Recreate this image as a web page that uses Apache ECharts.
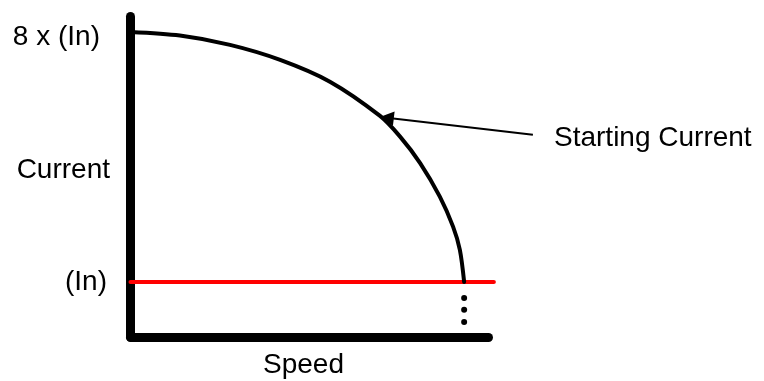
<!DOCTYPE html>
<html>
<head>
<meta charset="utf-8">
<script src="https://cdn.jsdelivr.net/npm/echarts@6/dist/echarts.min.js"></script>
<style>
html,body{margin:0;padding:0;background:#fff;}
#chart{width:764px;height:381px;}
</style>
</head>
<body>
<div id="chart"></div>
<script>
// Starting-current curve (speed, current); current in units of In
const curveSpeed   = [0,    13.8, 27.8, 41.8, 55.7, 69.7, 75.3, 80.9, 86.4, 90.1, 92.0, 93.2];
const curveCurrent = [8.0,  7.90, 7.64, 7.22, 6.61, 5.65, 5.07, 4.33, 3.39, 2.55, 1.90, 1.00];
// Rated current line
const ratedSpeed   = [0, 101.5];
const ratedCurrent = [1, 1];
// Dotted drop line below the curve end
const dotSpeed     = [93.2, 93.2, 93.2];
const dotCurrent   = [0.55, 0.22, -0.12];
// Y-axis tick labels
const yTickValues  = [1, 8];
const yTickLabels  = ['(In)', '8 x (In)'];
// Axis titles and annotation
const xTitle = 'Speed';
const yTitle = 'Current';
const annotationText = 'Starting Current';
const arrowFrom = [112.4, 5.12];
const arrowTo   = [71.6, 5.60];

const FONT = 'Liberation Sans, Arial, Helvetica, sans-serif';
const chart = echarts.init(document.getElementById('chart'), null, {renderer: 'canvas'});

const zip = (a, b) => a.map((v, i) => [v, b[i]]);

chart.setOption({
  animation: false,
  backgroundColor: '#ffffff',
  grid: {left: 130.5, top: 16.5, width: 358, height: 320.5, outerBoundsMode: 'none', containLabel: false},
  xAxis: {
    type: 'value', min: 0, max: 100,
    name: xTitle, nameLocation: 'middle', nameGap: 14, nameMoveOverlap: false,
    nameTextStyle: {fontFamily: FONT, fontSize: 28, color: '#000', padding: [0, 12, 0, 0], verticalAlign: 'top'},
    axisLine: {onZero: false, lineStyle: {color: '#000', width: 9, cap: 'round'}},
    axisTick: {show: false}, axisLabel: {show: false}, splitLine: {show: false}
  },
  yAxis: {
    type: 'value', min: -0.54, max: 8.434,
    axisLine: {show: true, onZero: false, lineStyle: {color: '#000', width: 9, cap: 'round'}},
    axisTick: {show: false},
    splitLine: {show: false},
    axisLabel: {
      customValues: yTickValues,
      margin: 23.5,
      fontFamily: FONT, fontSize: 28, color: '#000',
      formatter: function (v) {
        const i = yTickValues.indexOf(v);
        const t = i >= 0 ? yTickLabels[i] : '';
        return i === 1 ? '{top|' + t + '}' : '{base|' + t + '}';
      },
      rich: {
        top: {fontFamily: FONT, fontSize: 28, color: '#000', padding: [10, 7, 0, 0]},
        base: {fontFamily: FONT, fontSize: 28, color: '#000'}
      }
    }
  },
  series: [
    {
      type: 'lines', coordinateSystem: 'cartesian2d', clip: false, z: 3,
      symbol: ['none', 'none'],
      lineStyle: {color: '#ff0000', width: 4, opacity: 1, curveness: 0, cap: 'round'},
      data: [{coords: zip(ratedSpeed, ratedCurrent)}]
    },
    {
      type: 'line', data: zip(curveSpeed, curveCurrent), symbol: 'none', smooth: 0.3, clip: false, z: 4,
      lineStyle: {color: '#000', width: 4, cap: 'round'}
    },
    {
      type: 'scatter', data: zip(dotSpeed, dotCurrent), symbol: 'circle', symbolSize: 6, clip: false, z: 4,
      itemStyle: {color: '#000', opacity: 1}
    },
    {
      type: 'lines', coordinateSystem: 'cartesian2d', clip: false, z: 5,
      symbol: ['none', 'triangle'], symbolSize: [11, 14],
      lineStyle: {color: '#000', width: 2, opacity: 1, curveness: 0},
      data: [{coords: [arrowFrom, arrowTo]}]
    }
  ],
  graphic: [
    {type: 'text', x: 110, y: 170, style: {text: yTitle, fontFamily: FONT, fontSize: 28, fill: '#000', verticalAlign: 'middle', align: 'right'}},
    {type: 'text', x: 554, y: 138.5, style: {text: annotationText, fontFamily: FONT, fontSize: 28, fill: '#000', verticalAlign: 'middle', align: 'left'}}
  ]
});
</script>
</body>
</html>
